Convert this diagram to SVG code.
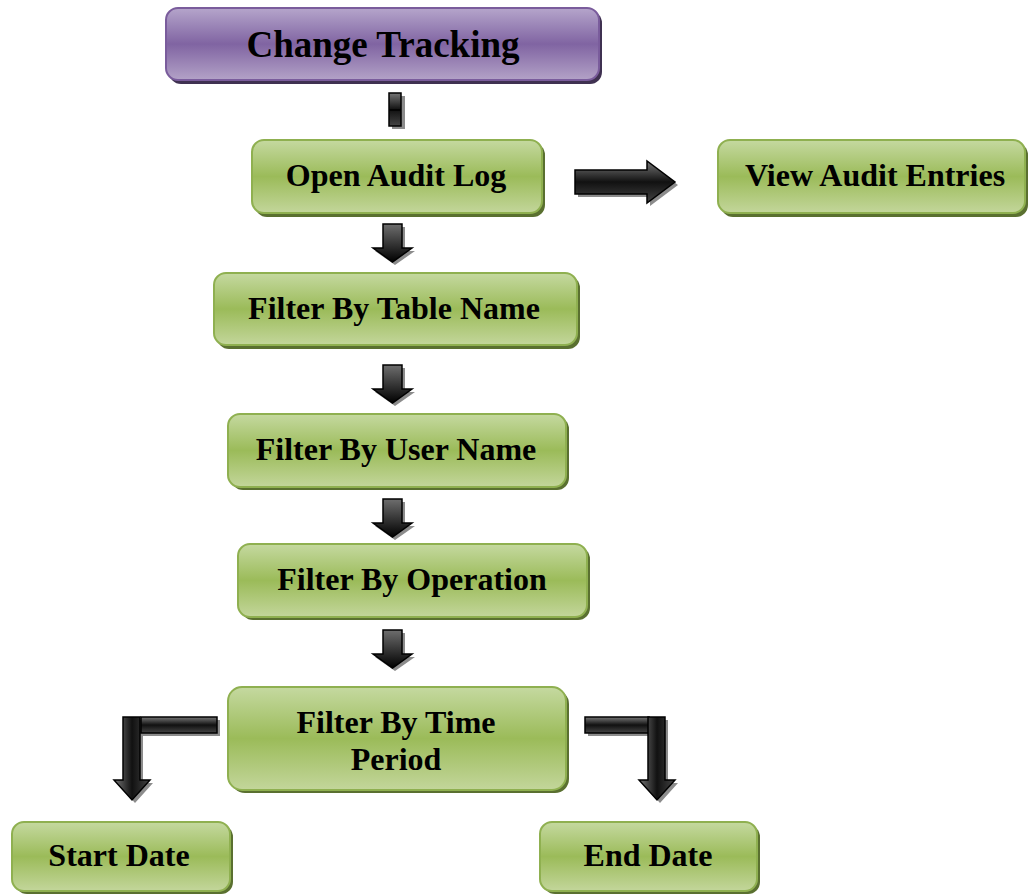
<svg xmlns="http://www.w3.org/2000/svg" width="1028" height="894" viewBox="0 0 1028 894">
<defs>
<linearGradient id="gGreen" x1="0" y1="0" x2="0" y2="1">
<stop offset="0" stop-color="#c5d9a0"/>
<stop offset="0.5" stop-color="#9bbb59"/>
<stop offset="1" stop-color="#c3d69b"/>
</linearGradient>
<linearGradient id="gPurple" x1="0" y1="0" x2="0" y2="1">
<stop offset="0" stop-color="#b5a5cb"/>
<stop offset="0.5" stop-color="#8064a2"/>
<stop offset="1" stop-color="#b3a2c7"/>
</linearGradient>
<linearGradient id="gArrV" x1="0" y1="0" x2="0" y2="1">
<stop offset="0" stop-color="#6e6e6e"/>
<stop offset="1" stop-color="#000"/>
</linearGradient>
<linearGradient id="gArrH" x1="0" y1="0" x2="0" y2="1">
<stop offset="0" stop-color="#777"/>
<stop offset="0.5" stop-color="#111"/>
<stop offset="1" stop-color="#444"/>
</linearGradient>
<linearGradient id="gArrX" x1="0" y1="0" x2="1" y2="0">
<stop offset="0" stop-color="#777"/>
<stop offset="0.5" stop-color="#111"/>
<stop offset="1" stop-color="#444"/>
</linearGradient>
</defs>
<style>
.g{fill:url(#gGreen);stroke:#8fb050;stroke-width:2}
.gs{fill:#5a7030}
.p{fill:url(#gPurple);stroke:#7a5c9c;stroke-width:2}
.ps{fill:#3f3151}
.t{font-family:"Liberation Serif","Times New Roman",serif;font-weight:bold;fill:#000;text-anchor:middle}
.t1{font-size:37px}
.t2{font-size:32px}
.av{fill:url(#gArrV);stroke:#000;stroke-width:1.5}
.ah{fill:url(#gArrH);stroke:#000;stroke-width:1.5}
.ax{fill:url(#gArrX);stroke:#000;stroke-width:1.5}
.sh{fill:#8c8c8c}
</style>
<g id="connectors">
<g id="c0">
<rect class="sh" x="392" y="96" width="13" height="33"/>
<rect class="ah" x="389" y="93" width="12" height="33"/>
<line x1="389" y1="110" x2="401" y2="110" stroke="#000" stroke-width="1.5"/>
</g>
<g id="c1">
<path class="sh" d="M386,227 h19 v24 h10 l-20,14 l-20,-14 h11 z"/>
<path class="av" d="M383,224 h19 v24 h10 l-19.5,14 l-19.5,-14 h10 z"/>
</g>
<g id="c2">
<path class="sh" d="M386,368 h19 v24 h10 l-20,14 l-20,-14 h11 z"/>
<path class="av" d="M383,365 h19 v24 h10 l-19.5,14 l-19.5,-14 h10 z"/>
</g>
<g id="c3">
<path class="sh" d="M386,502 h19 v24 h10 l-20,14 l-20,-14 h11 z"/>
<path class="av" d="M383,499 h19 v24 h10 l-19.5,14 l-19.5,-14 h10 z"/>
</g>
<g id="c4">
<path class="sh" d="M386,633 h19 v24 h10 l-20,14 l-20,-14 h11 z"/>
<path class="av" d="M383,630 h19 v24 h10 l-19.5,14 l-19.5,-14 h10 z"/>
</g>
<g id="c5">
<path class="sh" d="M578,173 h72 v-9 l28,21 l-28,21 v-9 h-72 z"/>
<path class="ah" d="M575,170 h72 v-9 l28,21 l-28,21 v-9 h-72 z"/>
</g>
<g id="c6">
<path class="sh" d="M220,720 v16 h-77 v47 h10 l-18,20 l-18,-20 h10 v-63 z"/>
<rect class="ah" x="141" y="717" width="76" height="16"/>
<path class="ax" d="M123,717 h17 v63 h10 l-18,20 l-18,-20 h9 z"/>
</g>
<g id="c7">
<path class="sh" d="M588,720 h80 v63 h10 l-18,20 l-18,-20 h10 v-47 h-64 z"/>
<rect class="ah" x="585" y="717" width="64" height="16"/>
<path class="ax" d="M648,717 h17 v63 h10 l-18,20 l-18,-20 h9 z"/>
</g>
</g>
<g id="n0">
<rect class="ps" x="169" y="11" width="433" height="73" rx="12"/>
<rect class="p" x="166" y="8" width="433" height="72" rx="12"/>
<text class="t t1" x="383" y="57">Change Tracking</text>
</g>
<g id="n1">
<rect class="gs" x="255" y="143" width="290" height="74" rx="12"/>
<rect class="g" x="252" y="140" width="290" height="73" rx="12"/>
<text class="t t2" x="396" y="186">Open Audit Log</text>
</g>
<g id="n2">
<rect class="gs" x="721" y="143" width="307" height="74" rx="12"/>
<rect class="g" x="718" y="140" width="307" height="73" rx="12"/>
<text class="t t2" x="875" y="186">View Audit Entries</text>
</g>
<g id="n3">
<rect class="gs" x="217" y="276" width="363" height="73" rx="12"/>
<rect class="g" x="214" y="273" width="363" height="72" rx="12"/>
<text class="t t2" x="394" y="319">Filter By Table Name</text>
</g>
<g id="n4">
<rect class="gs" x="231" y="417" width="338" height="73" rx="12"/>
<rect class="g" x="228" y="414" width="338" height="73" rx="12"/>
<text class="t t2" x="396" y="460">Filter By User Name</text>
</g>
<g id="n5">
<rect class="gs" x="241" y="547" width="349" height="73" rx="12"/>
<rect class="g" x="238" y="544" width="349" height="73" rx="12"/>
<text class="t t2" x="412" y="590">Filter By Operation</text>
</g>
<g id="n6">
<rect class="gs" x="231" y="690" width="338" height="103" rx="14"/>
<rect class="g" x="228" y="687" width="338" height="103" rx="14"/>
<text class="t t2" x="396" y="733">Filter By Time</text>
<text class="t t2" x="396" y="770">Period</text>
</g>
<g id="n7">
<rect class="gs" x="15" y="825" width="218" height="69" rx="12"/>
<rect class="g" x="12" y="822" width="218" height="69" rx="12"/>
<text class="t t2" x="119" y="866">Start Date</text>
</g>
<g id="n8">
<rect class="gs" x="543" y="825" width="217" height="69" rx="12"/>
<rect class="g" x="540" y="822" width="217" height="69" rx="12"/>
<text class="t t2" x="648" y="866">End Date</text>
</g>
</svg>
